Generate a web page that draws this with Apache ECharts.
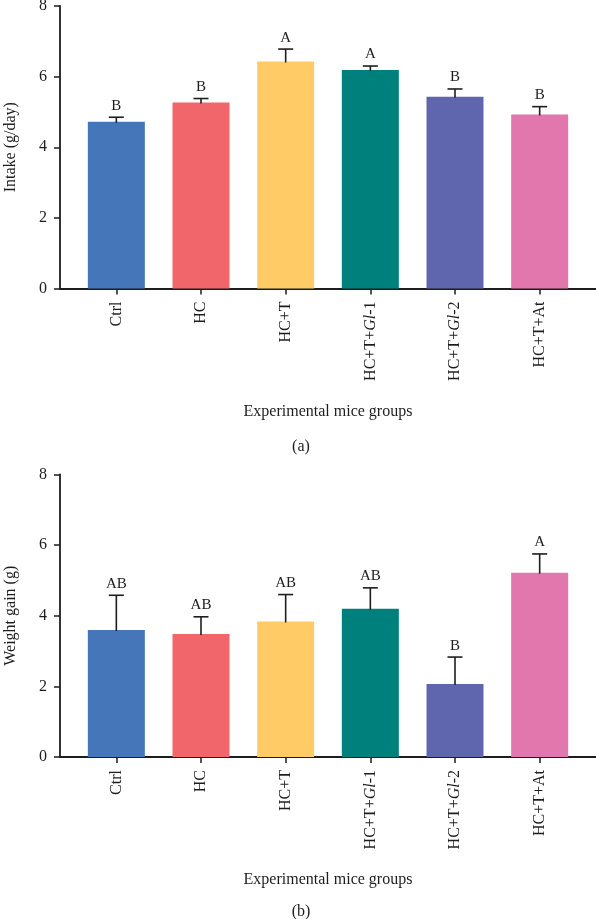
<!DOCTYPE html>
<html>
<head>
<meta charset="utf-8">
<script src="https://cdn.jsdelivr.net/npm/echarts@6/dist/echarts.min.js"></script>
<style>
  html, body { margin: 0; padding: 0; background: #fff; }
  #chart { width: 596px; height: 919px; }
</style>
</head>
<body>
<div id="chart"></div>
<script>
// groups and values
var groups = ['Ctrl', 'HC', 'HC+T', 'HC+T+Gl-1', 'HC+T+Gl-2', 'HC+T+At'];
var barColors = ['#4576b9', '#f0666a', '#fecb67', '#00807d', '#6066ae', '#e277ad'];

var intake = [4.72, 5.27, 6.43, 6.19, 5.43, 4.93];
var intakeSd = [0.13, 0.11, 0.35, 0.11, 0.22, 0.22];
var intakeLetters = ['B', 'B', 'A', 'A', 'B', 'B'];

var gain = [3.60, 3.48, 3.84, 4.20, 2.07, 5.22];
var gainSd = [0.98, 0.49, 0.76, 0.59, 0.76, 0.53];
var gainLetters = ['AB', 'AB', 'AB', 'AB', 'B', 'A'];

var yTicks = [0, 2, 4, 6, 8];

var FONT = '"Liberation Serif", "DejaVu Serif", serif';
var INK = '#1d1d1d';

// panel geometry
var panels = [
  { top: 6, name: 'Intake (g/day)', tag: '(a)', tagTop: 434, values: intake, sd: intakeSd, letters: intakeLetters },
  { top: 474.5, name: 'Weight gain (g)', tag: '(b)', tagTop: 899, values: gain, sd: gainSd, letters: gainLetters }
];
var PH = 282.5;

var grids = [], xAxes = [], yAxes = [], series = [], titles = [];

panels.forEach(function (p, k) {
  // grid holding the axis frame (y axis + full-length baseline)
  grids.push({ left: 60, right: 0, top: p.top, height: PH, outerBoundsMode: 'none', containLabel: false });
  // grid holding the bars
  grids.push({ left: 74, width: 508, top: p.top, height: PH, outerBoundsMode: 'none', containLabel: false });

  var ga = k * 2, gb = k * 2 + 1;

  xAxes.push({
    gridIndex: ga, type: 'value', min: 0, max: 1,
    axisLine: { show: true, lineStyle: { color: INK, width: 1.8 } },
    axisTick: { show: false }, axisLabel: { show: false }, splitLine: { show: false }
  });
  yAxes.push({
    gridIndex: ga, type: 'value', min: yTicks[0], max: yTicks[yTicks.length - 1], interval: 2,
    name: p.name, nameLocation: 'middle', nameGap: 41, nameRotate: 90,
    nameTextStyle: { fontFamily: FONT, fontSize: 16, color: INK },
    axisLine: { show: true, lineStyle: { color: INK, width: 1.8 } },
    axisTick: { show: true, length: 6, lineStyle: { color: INK, width: 1.5 } },
    axisLabel: { margin: 13, fontFamily: FONT, fontSize: 16, color: INK },
    splitLine: { show: false }
  });

  xAxes.push({
    gridIndex: gb, type: 'category', data: groups,
    name: 'Experimental mice groups', nameLocation: 'middle', nameGap: 115,
    nameTextStyle: { fontFamily: FONT, fontSize: 16, color: INK },
    axisLine: { show: false },
    axisTick: { show: true, alignWithLabel: true, length: 6, lineStyle: { color: INK, width: 1.5 } },
    axisLabel: {
      rotate: 90, margin: 13, interval: 0, fontFamily: FONT, fontSize: 16, color: INK,
      formatter: function (v) { return v.replace('Gl', '{it|Gl}'); },
      rich: { it: { fontStyle: 'italic', fontFamily: FONT, fontSize: 16, color: INK } }
    }
  });
  yAxes.push({
    gridIndex: gb, type: 'value', min: 0, max: 8, show: false
  });

  series.push({
    type: 'bar', xAxisIndex: gb, yAxisIndex: gb, barWidth: 57,
    data: p.values.map(function (v, i) {
      return { value: v, itemStyle: { color: barColors[i] } };
    }),
    z: 2
  });

  series.push({
    type: 'custom', xAxisIndex: gb, yAxisIndex: gb, z: 3,
    data: p.values.map(function (v, i) { return [i, v, p.sd[i]]; }),
    renderItem: function (params, api) {
      var i = api.value(0);
      var base = api.coord([i, api.value(1)]);
      var tip = api.coord([i, api.value(1) + api.value(2)]);
      var half = 7.5;
      return {
        type: 'group',
        children: [
          { type: 'line', shape: { x1: base[0], y1: base[1] + 1, x2: tip[0], y2: tip[1] },
            style: { stroke: INK, lineWidth: 1.6 } },
          { type: 'line', shape: { x1: tip[0] - half, y1: tip[1], x2: tip[0] + half, y2: tip[1] },
            style: { stroke: INK, lineWidth: 1.6 } },
          { type: 'text', x: tip[0], y: tip[1] - 4,
            style: { text: p.letters[params.dataIndex], font: '15px ' + FONT, fill: INK,
                     textAlign: 'center', textVerticalAlign: 'bottom' } }
        ]
      };
    }
  });

  titles.push({
    text: p.tag, left: 296, top: p.tagTop, textAlign: 'center',
    textStyle: { fontFamily: FONT, fontSize: 16, fontWeight: 'normal', color: INK }
  });
});

var chart = echarts.init(document.getElementById('chart'), null, { renderer: 'canvas' });
chart.setOption({
  animation: false,
  backgroundColor: '#ffffff',
  title: titles,
  grid: grids,
  xAxis: xAxes,
  yAxis: yAxes,
  series: series
});
</script>
</body>
</html>
